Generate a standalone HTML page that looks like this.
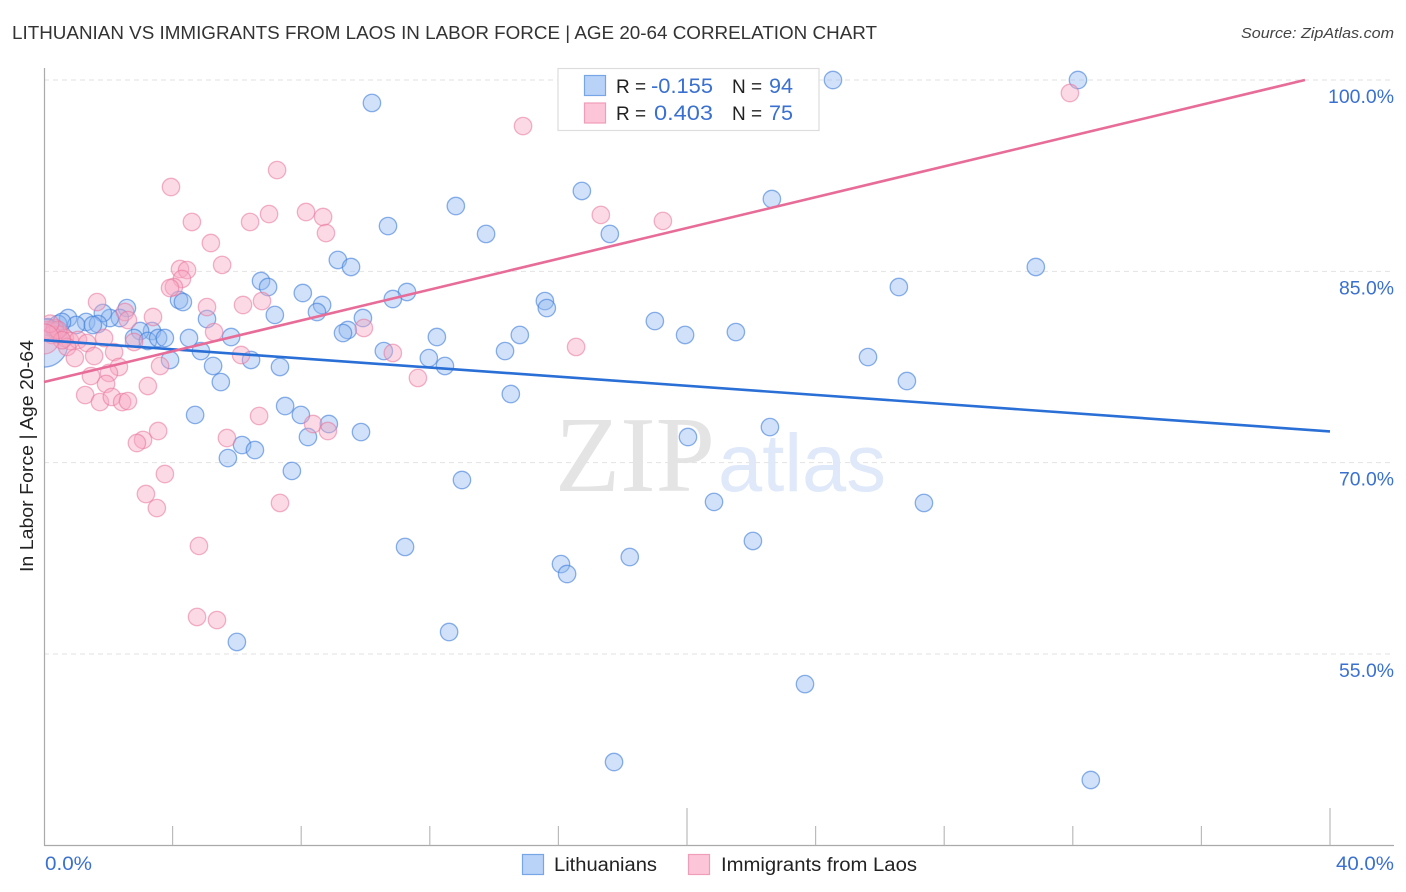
<!DOCTYPE html>
<html><head><meta charset="utf-8"><title>Lithuanian vs Immigrants from Laos correlation chart</title>
<style>
html,body{margin:0;padding:0;background:#fff;width:1406px;height:892px;overflow:hidden}
svg{display:block}
text{font-family:"Liberation Sans",sans-serif}
</style></head>
<body>
<svg id="chart" xmlns="http://www.w3.org/2000/svg" width="1406" height="892" viewBox="0 0 1406 892">
<defs><clipPath id="plot-clip"><rect x="44" y="60" width="1350" height="786"/></clipPath></defs>
<text x="12" y="39" font-size="18" fill="#333" textLength="865" lengthAdjust="spacingAndGlyphs">LITHUANIAN VS IMMIGRANTS FROM LAOS IN LABOR FORCE | AGE 20-64 CORRELATION CHART</text>
<text x="1394" y="38" font-size="15" font-style="italic" fill="#444" text-anchor="end" textLength="153" lengthAdjust="spacingAndGlyphs">Source: ZipAtlas.com</text>
<g id="grid"></g>
<g>
<text x="555" y="491" font-size="108" fill="#e4e4e4" textLength="160" lengthAdjust="spacingAndGlyphs" style="font-family:'Liberation Serif',serif">ZIP</text>
<text x="718" y="491" font-size="82" fill="#dfe9fa" textLength="168" lengthAdjust="spacingAndGlyphs">atlas</text>
</g>
<g id="axes"></g>
<g id="marks-blue" clip-path="url(#plot-clip)"></g>
<g id="marks-pink" clip-path="url(#plot-clip)"></g>
<g id="trends"></g>
<text transform="translate(33,456) rotate(-90)" font-size="18" fill="#222" text-anchor="middle" textLength="232" lengthAdjust="spacingAndGlyphs">In Labor Force | Age 20-64</text>
<g>
<rect x="558" y="68.5" width="261" height="62" fill="#fff" stroke="#ddd" stroke-width="1.2"/>
<rect x="584.5" y="75.5" width="21" height="20" fill="#b9d3f8" stroke="#77a6e6" stroke-width="1.2"/>
<rect x="584.5" y="103" width="21" height="20" fill="#fcc6d8" stroke="#f09db9" stroke-width="1.2"/>
<text x="616" y="93" font-size="19" fill="#222">R =</text>
<text x="651" y="93" font-size="21" fill="#3a70d0" textLength="62" lengthAdjust="spacingAndGlyphs">-0.155</text>
<text x="732" y="93" font-size="19" fill="#222">N =</text>
<text x="769" y="93" font-size="21" fill="#3a70d0" textLength="24" lengthAdjust="spacingAndGlyphs">94</text>
<text x="616" y="120" font-size="19" fill="#222">R =</text>
<text x="654" y="120" font-size="21" fill="#3a70d0" textLength="59" lengthAdjust="spacingAndGlyphs">0.403</text>
<text x="732" y="120" font-size="19" fill="#222">N =</text>
<text x="769" y="120" font-size="21" fill="#3a70d0" textLength="24" lengthAdjust="spacingAndGlyphs">75</text>
</g>
<g>
<rect x="522.5" y="854.5" width="21" height="20" fill="#b9d3f8" stroke="#77a6e6" stroke-width="1.2"/>
<text x="554" y="871" font-size="19" fill="#222" textLength="103" lengthAdjust="spacingAndGlyphs">Lithuanians</text>
<rect x="688.5" y="854.5" width="21" height="20" fill="#fcc6d8" stroke="#f09db9" stroke-width="1.2"/>
<text x="721" y="871" font-size="19" fill="#222" textLength="196" lengthAdjust="spacingAndGlyphs">Immigrants from Laos</text>
</g>
</svg>
<script>
const yTickValues = [100, 85, 70, 55];
const yTickLabels = ['100.0%', '85.0%', '70.0%', '55.0%'];
const xTickValues = [0, 4, 8, 12, 16, 20, 24, 28, 32, 36, 40];
const xMajorTicks = [20, 40];
const blueX = [24.54,32.16,10.20,16.73,22.64,12.81,10.70,13.75,17.60,9.14,9.55,30.85,6.75,6.97,26.59,8.05,11.29,10.85,4.20,4.32,8.65,15.58,15.64,7.18,8.49,5.07,9.92,2.58,0.75,19.00,2.36,2.05,1.83,1.31,1.68,0.44,1.00,1.52,3.36,2.99,9.45,9.30,19.94,21.52,14.80,5.82,12.22,4.51,2.80,3.23,3.55,3.76,10.57,14.34,4.88,11.97,25.63,3.92,6.44,5.26,7.34,12.47,5.50,26.84,14.52,7.50,7.99,4.70,8.86,22.58,9.86,8.21,20.03,6.16,6.56,5.72,7.71,13.00,20.84,27.37,22.05,11.23,18.22,16.08,16.27,12.60,6.00,23.67,17.73,32.56,0.12,0.34,0.56];
const blueY = [100,100,98.20,91.30,90.67,90.12,88.55,87.93,87.93,85.89,85.34,85.34,84.24,83.77,83.77,83.30,83.38,82.83,82.75,82.59,82.36,82.67,82.12,81.58,81.81,81.26,81.34,82.12,81.34,81.10,81.34,81.34,81.73,81.03,80.87,80.87,80.79,80.79,80.32,80.32,80.40,80.16,80.01,80.24,80.01,79.85,79.85,79.77,79.77,79.54,79.77,79.77,78.75,78.75,78.75,78.20,78.28,78.05,78.05,77.58,77.50,77.58,76.32,76.40,75.38,74.44,73.74,73.74,73.03,72.79,72.40,72.01,72.01,71.38,70.99,70.36,69.35,68.64,66.92,66.84,63.86,63.39,62.60,62.05,61.27,56.72,55.94,52.64,46.53,45.12,80.63,80.40,81.03];
const blueLargeX = [0];
const blueLargeY = [79.38];
const pinkX = [31.91,14.90,3.95,7.25,4.60,6.41,7.00,8.15,8.68,8.77,17.32,19.25,5.19,5.54,4.23,4.45,4.29,4.04,3.92,1.65,5.07,6.19,6.78,3.39,2.52,2.61,9.95,5.29,10.85,16.55,6.13,2.18,3.61,2.33,1.46,2.02,11.63,3.23,1.93,1.28,1.74,2.11,2.43,2.61,6.69,8.37,8.83,3.55,5.69,3.08,2.89,3.76,3.17,3.51,7.34,4.82,4.76,5.38,0.12,0.34,0.50,0.25,0.65,0.81,1.06,0.72,1.34,0.96,1.56,1.87,2.80,0.44,0.19,0.56];
const pinkY = [98.98,96.39,91.61,92.94,88.87,88.87,89.49,89.65,89.26,88.00,89.42,88.95,87.22,85.50,85.18,85.10,84.40,83.77,83.69,82.59,82.20,82.36,82.67,81.42,81.81,81.18,80.56,80.24,78.60,79.07,78.44,78.67,77.58,77.50,76.79,77.03,76.64,76.01,76.17,75.30,74.75,75.15,74.75,74.83,73.66,73.03,72.48,72.48,71.93,71.78,71.54,69.11,67.54,66.44,66.84,63.47,57.90,57.66,80.40,80.56,80.01,80.01,79.77,79.54,79.62,79.07,79.38,78.20,78.36,79.77,79.46,80.40,80.90,79.60];
const pinkLargeX = [0];
const pinkLargeY = [79.7];
const blueTrendX = [0, 40];
const blueTrendY = [79.6, 72.45];
const pinkTrendX = [0, 39.22];
const pinkTrendY = [76.32, 100];

const NS = 'http://www.w3.org/2000/svg';
function sx(v) { return 44 + v * 32.15; }
function sy(v) { return 80 + (100 - v) * 12.755; }
function make(tag, attrs, parent) {
  const el = document.createElementNS(NS, tag);
  for (const k in attrs) el.setAttribute(k, attrs[k]);
  parent.appendChild(el);
  return el;
}
const grid = document.getElementById('grid');
const axes = document.getElementById('axes');
yTickValues.forEach(function (v, i) {
  const line = make('line', {x1: 44, x2: 1394, y1: sy(v), y2: sy(v), stroke: '#e2e2e2', 'stroke-width': 1, 'stroke-dasharray': '5 4'}, grid);
  
  
  const label = make('text', {x: 1394, y: sy(v) + 23, 'font-size': 19, fill: '#3a70d0', 'text-anchor': 'end', textLength: yTickLabels[i].length * 11, lengthAdjust: 'spacingAndGlyphs'}, axes);
  label.textContent = yTickLabels[i];
  
  
});
const yAxis = make('line', {x1: 44.5, x2: 44.5, y1: 68, y2: 846, stroke: '#aaa', 'stroke-width': 1.2}, axes);


const xAxis = make('line', {x1: 44, x2: 1394, y1: 845.5, y2: 845.5, stroke: '#aaa', 'stroke-width': 1.2}, axes);


xTickValues.forEach(function (v) {
  if (v === 0) return;
  const top = xMajorTicks.indexOf(v) >= 0 ? 808 : 826;
  const tick = make('line', {x1: sx(v), x2: sx(v), y1: top, y2: 845, stroke: '#bbb', 'stroke-width': 1.2}, axes);
  
  
});
const xLabelMin = make('text', {x: 45, y: 870, 'font-size': 19, fill: '#3a70d0', textLength: 47, lengthAdjust: 'spacingAndGlyphs'}, axes);
xLabelMin.textContent = '0.0%';


const xLabelMax = make('text', {x: 1394, y: 870, 'font-size': 19, fill: '#3a70d0', 'text-anchor': 'end', textLength: 58, lengthAdjust: 'spacingAndGlyphs'}, axes);
xLabelMax.textContent = '40.0%';



function drawPoints(groupId, xs, ys, r, fill, stroke, fillOpacity, strokeOpacity, name) {
  const g = document.getElementById(groupId);
  xs.forEach(function (x, i) {
    const c = make('circle', {cx: sx(x), cy: sy(ys[i]), r: r, fill: fill, 'fill-opacity': fillOpacity, stroke: stroke, 'stroke-opacity': strokeOpacity, 'stroke-width': 1.3}, g);
    
    
  });
}
drawPoints('marks-blue', blueX, blueY, 8.7, '#8fb8f0', '#3f7ddb', 0.42, 0.6, 'lithuanians-point');
drawPoints('marks-blue', blueLargeX, blueLargeY, 24, '#8fb8f0', '#3f7ddb', 0.42, 0.6, 'lithuanians-large-point');
drawPoints('marks-pink', pinkX, pinkY, 8.7, '#f8a8c2', '#e8749c', 0.42, 0.55, 'immigrants-point');
drawPoints('marks-pink', pinkLargeX, pinkLargeY, 15, '#f8a8c2', '#e8749c', 0.42, 0.55, 'immigrants-large-point');

const trends = document.getElementById('trends');
const blueLine = make('line', {x1: sx(blueTrendX[0]), y1: sy(blueTrendY[0]), x2: sx(blueTrendX[1]), y2: sy(blueTrendY[1]), stroke: '#2a6fd6', 'stroke-width': 2.6}, trends);


const pinkLine = make('line', {x1: sx(pinkTrendX[0]), y1: sy(pinkTrendY[0]), x2: sx(pinkTrendX[1]), y2: sy(pinkTrendY[1]), stroke: '#e86c98', 'stroke-width': 2.6}, trends);


</script>
</body></html>
